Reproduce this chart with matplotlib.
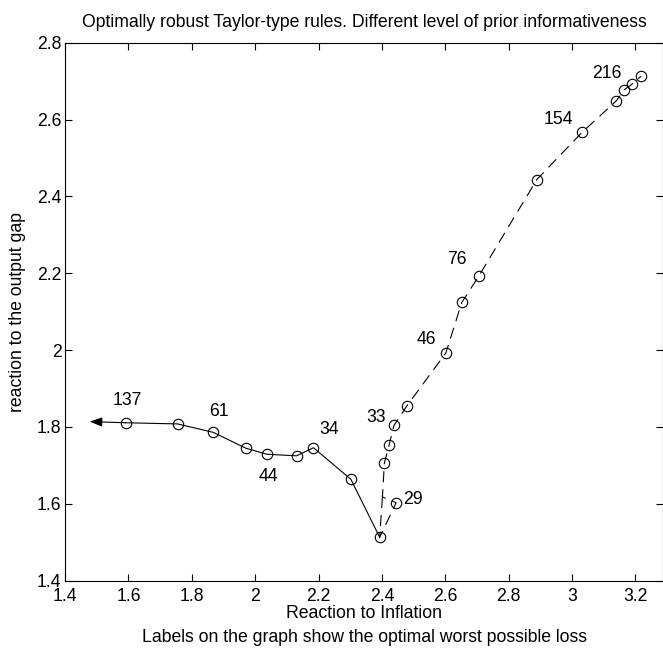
import matplotlib
matplotlib.use("Agg")
import matplotlib.pyplot as plt

plt.rcParams['font.family'] = ['Liberation Sans Narrow', 'Liberation Sans', 'DejaVu Sans']
plt.rcParams['lines.scale_dashes'] = False

# Solid branch (reaction to inflation, reaction to output gap)
solid_x = [1.591, 1.755, 1.868, 1.970, 2.037, 2.131, 2.184, 2.302, 2.393]
solid_y = [1.811, 1.808, 1.786, 1.745, 1.729, 1.725, 1.746, 1.664, 1.513]
arrow_tip = (1.478, 1.814)

# Dashed branch: line path and marker points
dash_path_x = [2.4016, 2.393, 2.445, 2.4016, 2.408, 2.423, 2.438, 2.479, 2.602, 2.652,
               2.706, 2.889, 3.032, 3.140, 3.164, 3.189, 3.218]
dash_path_y = [1.618, 1.513, 1.603, 1.618, 1.707, 1.754, 1.804, 1.855, 1.993, 2.124,
               2.193, 2.444, 2.567, 2.649, 2.677, 2.692, 2.713]
dash_mark_x = [2.445, 2.408, 2.423, 2.438, 2.479, 2.602, 2.652, 2.706, 2.889, 3.032,
               3.140, 3.164, 3.189, 3.218]
dash_mark_y = [1.603, 1.707, 1.754, 1.804, 1.855, 1.993, 2.124, 2.193, 2.444, 2.567,
               2.649, 2.677, 2.692, 2.713]

# Worst possible loss labels: (x, y, text)
label_x = [1.591, 1.868, 2.037, 2.184, 2.438, 2.445, 2.602, 2.706, 3.032, 3.164]
label_y = [1.811, 1.786, 1.729, 1.746, 1.804, 1.603, 1.993, 2.193, 2.567, 2.677]
label_txt = ['137', '61', '44', '34', '33', '29', '46', '76', '154', '216']
label_off_px = [(2, 22), (6, 21), (2, -22), (16, 18), (-18, 8), (17, 3),
                (-20, 13), (-22, 16), (-24, 13), (-17, 16)]

xticks = [1.4, 1.6, 1.8, 2.0, 2.2, 2.4, 2.6, 2.8, 3.0, 3.2]
xtick_labels = ['1.4', '1.6', '1.8', '2', '2.2', '2.4', '2.6', '2.8', '3', '3.2']
yticks = [1.4, 1.6, 1.8, 2.0, 2.2, 2.4, 2.6, 2.8]
ytick_labels = ['1.4', '1.6', '1.8', '2', '2.2', '2.4', '2.6', '2.8']

FS = 12.7
W, H = 663, 650
fig = plt.figure(figsize=(W / 100, H / 100), dpi=100)
ax = fig.add_axes([65 / W, 69.3 / H, (663 - 65) / W, (580.7 - 42.7) / H])

ax.plot(solid_x, solid_y, color='black', lw=0.8, marker='o', ms=7.5,
        mfc='none', mec='black', mew=0.8)
ax.annotate('', xy=arrow_tip, xytext=(solid_x[0], solid_y[0]),
            arrowprops=dict(arrowstyle='-|>,head_length=0.75,head_width=0.28',
                            color='black', lw=0.8, shrinkA=0, shrinkB=0))
ax.plot(dash_path_x, dash_path_y, color='black', lw=0.8, dashes=(8, 5))
ax.plot(dash_mark_x, dash_mark_y, ls='none', marker='o', ms=7.5,
        mfc='none', mec='black', mew=0.8)

for x, y, t, (dx, dy) in zip(label_x, label_y, label_txt, label_off_px):
    ax.annotate(t, xy=(x, y), xytext=(dx * 0.72, dy * 0.72), textcoords='offset points',
                ha='center', va='center', fontsize=FS)

ax.set_xlim(1.4, 3.287)
ax.set_ylim(1.4, 2.8)
ax.set_xticks(xticks)
ax.set_xticklabels(xtick_labels)
ax.set_yticks(yticks)
ax.set_yticklabels(ytick_labels)
ax.tick_params(direction='in', top=True, right=True, labelsize=FS, length=5, width=0.8)
ax.tick_params(axis='x', pad=5.5)
ax.tick_params(axis='y', pad=2.5)
for s in ax.spines.values():
    s.set_linewidth(0.8)

ax.set_title('Optimally robust Taylor-type rules. Different level of prior informativeness',
             fontsize=FS, pad=11)
ax.set_xlabel('Reaction to Inflation\nLabels on the graph show the optimal worst possible loss',
              fontsize=FS, linespacing=1.5, labelpad=0)
ax.set_ylabel('reaction to the output gap', fontsize=FS, labelpad=8)

fig.savefig('out.png', dpi=100)
